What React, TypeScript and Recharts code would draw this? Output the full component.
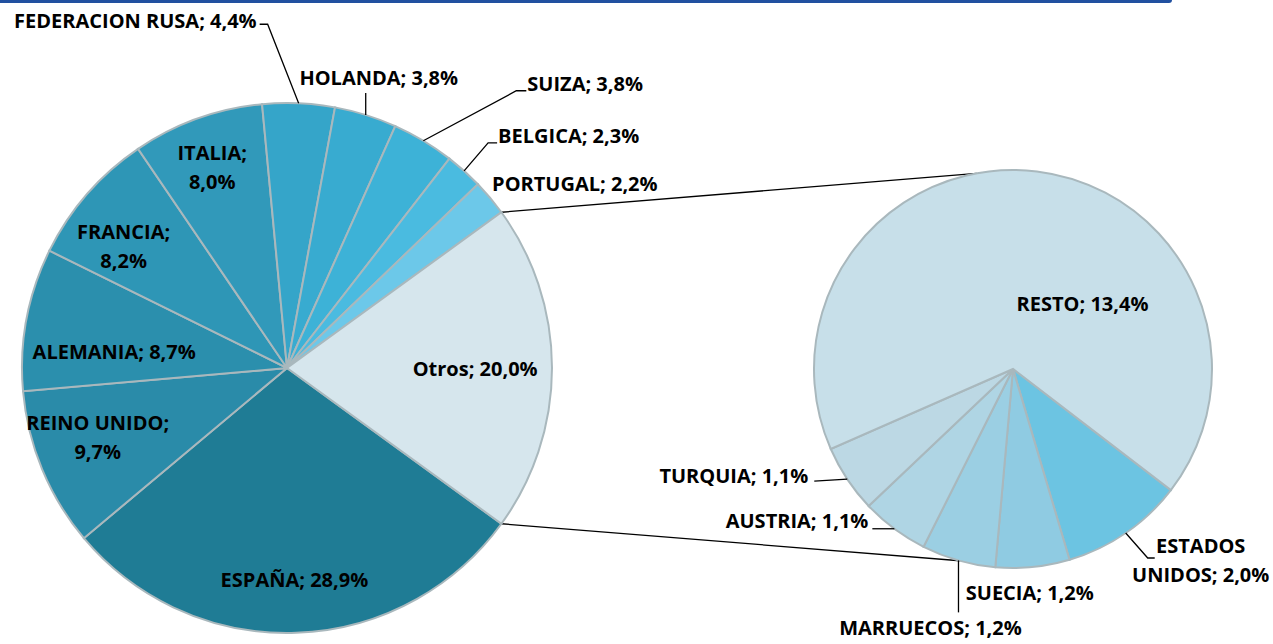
import React from "react";
import { PieChart, Pie, Cell, Customized } from "recharts";

// main pie, clockwise from the lower edge of "Otros"
const mainNames = [
  "ESPAÑA",
  "REINO UNIDO",
  "ALEMANIA",
  "FRANCIA",
  "ITALIA",
  "FEDERACION RUSA",
  "HOLANDA",
  "SUIZA",
  "BELGICA",
  "PORTUGAL",
  "Otros",
];
const mainValues = [28.9, 9.7, 8.7, 8.2, 8.0, 4.4, 3.8, 3.8, 2.3, 2.2, 20.0];
const mainColors = [
  "#1f7c95",
  "#2a8ba9",
  "#2b8fad",
  "#2e96b6",
  "#3199ba",
  "#35a5c9",
  "#38abd0",
  "#3db2d7",
  "#4abbe0",
  "#6cc8e9",
  "#d6e6ed",
];

// second pie = breakdown of "Otros"
const secNames = ["ESTADOS UNIDOS", "SUECIA", "MARRUECOS", "AUSTRIA", "TURQUIA", "RESTO"];
const secValues = [2.0, 1.2, 1.2, 1.1, 1.1, 13.4];
const secColors = ["#6cc4e2", "#8fcbe2", "#9bcfe3", "#afd5e4", "#bcd8e4", "#c7dfe9"];

const mainData = mainNames.map((name, i) => ({ name, value: mainValues[i] }));
const secData = secNames.map((name, i) => ({ name, value: secValues[i] }));

const P1 = { cx: 287, cy: 368, r: 265 };
const P2 = { cx: 1013, cy: 369, r: 199, start: -37.5 };
const RAD = Math.PI / 180;
const FONT = "'Open Sans', Lato, sans-serif";
const LINE_H = 29;

type InCfg = { kind: "in"; r: number; a: number; wrap?: "pct" | "word" };
type OutCfg = {
  kind: "out";
  elbow: [number, number];
  tail: number;
  text: [number, number];
  anchor: "start" | "middle" | "end";
  noLine?: boolean;
  wrap?: "pct" | "word";
};

const LABELS: Record<string, InCfg | OutCfg> = {
  ESPAÑA: { kind: "in", r: 0.8, a: -88 },
  "REINO UNIDO": { kind: "in", r: 0.76, a: -160, wrap: "pct" },
  ALEMANIA: { kind: "in", r: 0.655, a: 174.7 },
  FRANCIA: { kind: "in", r: 0.77, a: 143.2, wrap: "pct" },
  ITALIA: { kind: "in", r: 0.81, a: 110.4, wrap: "pct" },
  Otros: { kind: "in", r: 0.71, a: 0 },
  RESTO: { kind: "in", r: 0.48, a: 43.3 },
  "FEDERACION RUSA": { kind: "out", elbow: [-31, -79], tail: -8, text: [-3, -4], anchor: "end" },
  HOLANDA: { kind: "out", elbow: [0, -22], tail: 0, text: [13, -15], anchor: "middle" },
  SUIZA: { kind: "out", elbow: [93, -50], tail: 10, text: [1, -7], anchor: "start" },
  BELGICA: { kind: "out", elbow: [24, -28], tail: 9, text: [1, -7], anchor: "start" },
  PORTUGAL: { kind: "out", elbow: [0, 0], tail: 0, text: [2, -14], anchor: "start", noLine: true },
  TURQUIA: { kind: "out", elbow: [-33, 2], tail: 0, text: [-6, -6], anchor: "end" },
  AUSTRIA: { kind: "out", elbow: [-22, 0], tail: 0, text: [-4, -8], anchor: "end" },
  MARRUECOS: { kind: "out", elbow: [0, 52], tail: 0, text: [-28, 15], anchor: "middle" },
  SUECIA: { kind: "out", elbow: [0, 0], tail: 0, text: [-3, 25], anchor: "middle", noLine: true },
  "ESTADOS UNIDOS": { kind: "out", elbow: [22, 25], tail: 7, text: [46, -13], anchor: "middle", wrap: "word" },
};

const pct = (v: number) => v.toFixed(1).replace(".", ",") + "%";

function textLines(name: string, value: number, wrap?: "pct" | "word") {
  if (wrap === "pct") return [name + ";", pct(value)];
  if (wrap === "word") {
    const k = name.indexOf(" ");
    return [name.slice(0, k), name.slice(k + 1) + "; " + pct(value)];
  }
  return [name + "; " + pct(value)];
}

function makeLabel(names: string[], values: number[]) {
  return (props: any) => {
    const { cx, cy, midAngle, outerRadius, index } = props;
    const name = names[index];
    const cfg = LABELS[name];
    if (!cfg) return null;
    const lines = textLines(name, values[index], cfg.wrap);
    let tx: number;
    let ty: number;
    let anchor: "start" | "middle" | "end" = "middle";
    let leader: React.ReactNode = null;
    if (cfg.kind === "in") {
      tx = cx + outerRadius * cfg.r * Math.cos(cfg.a * RAD);
      ty = cy - outerRadius * cfg.r * Math.sin(cfg.a * RAD);
      ty -= ((lines.length - 1) * LINE_H) / 2;
    } else {
      const ex = cx + outerRadius * Math.cos(-midAngle * RAD);
      const ey = cy + outerRadius * Math.sin(-midAngle * RAD);
      const bx = ex + cfg.elbow[0];
      const by = ey + cfg.elbow[1];
      const tx0 = bx + cfg.tail;
      if (!cfg.noLine) {
        leader = (
          <polyline
            points={`${ex},${ey} ${bx},${by} ${tx0},${by}`}
            fill="none"
            stroke="#000"
            strokeWidth={1.3}
          />
        );
      }
      tx = tx0 + cfg.text[0];
      ty = by + cfg.text[1];
      anchor = cfg.anchor;
    }
    return (
      <g key={`lbl-${name}`}>
        {leader}
        {lines.map((ln, i) => (
          <text
            key={i}
            x={tx}
            y={ty + i * LINE_H}
            textAnchor={anchor}
            dominantBaseline="central"
            fontFamily={FONT}
            fontWeight={700}
            fontSize={20}
            fill="#000"
          >
            {ln}
          </text>
        ))}
      </g>
    );
  };
}

// lines joining the "Otros" slice to the second pie
function Connectors() {
  const total = mainValues.reduce((a, b) => a + b, 0);
  const half = (mainValues[mainValues.length - 1] / total) * 180;
  const pts: [number, number][] = [
    [half, 100.5],
    [-half, -105.5],
  ];
  return (
    <g>
      {pts.map(([a1, a2], i) => (
        <line
          key={i}
          x1={P1.cx + P1.r * Math.cos(a1 * RAD)}
          y1={P1.cy - P1.r * Math.sin(a1 * RAD)}
          x2={P2.cx + P2.r * Math.cos(a2 * RAD)}
          y2={P2.cy - P2.r * Math.sin(a2 * RAD)}
          stroke="#000"
          strokeWidth={1.3}
        />
      ))}
    </g>
  );
}

export default function App() {
  const secSpan = 360;
  return (
    <div style={{ position: "absolute", left: 0, top: 0, width: 1273, height: 644, background: "#fff" }}>
      <div
        style={{
          position: "absolute",
          left: 0,
          top: 0,
          width: 1172,
          height: 3,
          background: "#2150a0",
          borderBottomRightRadius: 4,
        }}
      />
      <PieChart width={1273} height={644} margin={{ top: 0, right: 0, bottom: 0, left: 0 }}>
        <Customized component={Connectors} />
        <Pie
          data={mainData}
          dataKey="value"
          nameKey="name"
          cx={P1.cx}
          cy={P1.cy}
          outerRadius={P1.r}
          startAngle={-36}
          endAngle={-396}
          stroke="#a9b8bd"
          strokeWidth={2}
          label={makeLabel(mainNames, mainValues)}
          labelLine={false}
          isAnimationActive={false}
        >
          {mainData.map((d, i) => (
            <Cell key={d.name} fill={mainColors[i]} />
          ))}
        </Pie>
        <Pie
          data={secData}
          dataKey="value"
          nameKey="name"
          cx={P2.cx}
          cy={P2.cy}
          outerRadius={P2.r}
          startAngle={P2.start}
          endAngle={P2.start - secSpan}
          stroke="#a9b8bd"
          strokeWidth={2}
          label={makeLabel(secNames, secValues)}
          labelLine={false}
          isAnimationActive={false}
        >
          {secData.map((d, i) => (
            <Cell key={d.name} fill={secColors[i]} />
          ))}
        </Pie>
      </PieChart>
    </div>
  );
}
